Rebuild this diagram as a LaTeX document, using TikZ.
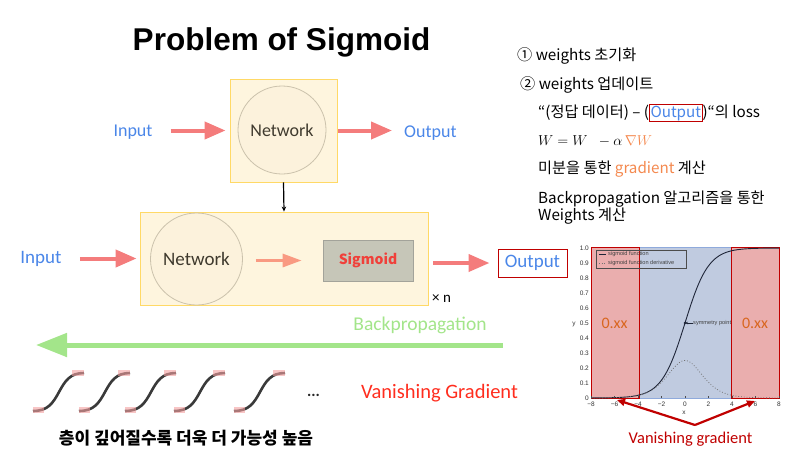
\documentclass[tikz,border=0pt]{standalone}
\usepackage{fontspec}
\setmainfont{Carlito}
\newfontfamily\kr{Noto Sans CJK KR}
\newfontfamily\ttl{Liberation Sans}
\usetikzlibrary{arrows.meta}
\definecolor{salmonA}{HTML}{F47C7C}
\definecolor{salmonB}{HTML}{F99A82}
\definecolor{blueT}{HTML}{4A86E8}
\definecolor{boxFill}{HTML}{FEF5DE}
\definecolor{boxLine}{HTML}{FFD966}
\definecolor{circFill}{HTML}{FCF2DC}
\definecolor{circLine}{HTML}{CBC2AC}
\definecolor{sigFill}{HTML}{C6C6B8}
\definecolor{sigLine}{HTML}{A3A39A}
\definecolor{sigText}{HTML}{F0403A}
\definecolor{netText}{HTML}{3F3A2E}
\definecolor{greenA}{HTML}{A3E58A}
\definecolor{vgRed}{HTML}{FF2D1E}
\definecolor{darkRed}{HTML}{C00000}
\definecolor{orangeG}{HTML}{F4894F}
\definecolor{orangeX}{HTML}{D9661F}
\definecolor{pinkF}{HTML}{EAAEAE}
\definecolor{blueF}{HTML}{C0CBE0}
\definecolor{blueB}{HTML}{8FAADC}
\definecolor{pinkS}{HTML}{F4A0A0}
\definecolor{curveC}{HTML}{3A3A3A}
\definecolor{plotC}{HTML}{1E2538}
\begin{document}
\begin{tikzpicture}[x=1pt,y=-1pt,
  txt/.style={inner sep=0pt, anchor=base},
  lbl/.style={txt, text=blueT, font=\fontsize{18}{20}\selectfont},
  ybox/.style={rectangle, draw=boxLine, fill=boxFill, line width=0.9pt, inner sep=0pt},
  net/.style={circle, draw=circLine, fill=circFill, line width=0.8pt, inner sep=0pt, text=netText},
  fat/.style={draw=salmonA, line width=4pt, -{Triangle[length=21pt,width=17pt]}},
  thin/.style={draw=salmonB, line width=3pt, -{Triangle[length=19pt,width=13pt]}},
  rp/.style={anchor=base west, inner sep=0pt, font=\kr\fontsize{15.2}{17}\selectfont},
  tick/.style={inner sep=0pt, font=\ttl\fontsize{6.5}{7}\selectfont, text=black!80},
  leg/.style={inner sep=0pt, anchor=west, font=\ttl\fontsize{5.6}{6}\selectfont, text=black!75},
  scurve/.pic={
    \draw[curveC, line width=2.6pt] (-26,19) .. controls (-11,19) and (-6,11) .. (0,0)
        .. controls (6,-11) and (11,-19) .. (25,-19);
    \fill[pinkS, opacity=0.6] (-26,15) rectangle (-15,21);
    \fill[pinkS, opacity=0.6] (13,-22) rectangle (25,-16.5);
  }]
\useasboundingbox (0,0) rectangle (800,450);

% title
\node[txt, font=\ttl\bfseries\fontsize{31.5}{33}\selectfont] (title) at (281.5,50) {Problem of Sigmoid};

% top network
\node[ybox, minimum width=107pt, minimum height=103pt] (box1) at (283.5,130.5) {};
\node[net, minimum size=88pt, font=\fontsize{18}{20}\selectfont] (net1) at (282,130) {Network};
\node[lbl] (in1) at (133,136) {Input};
\node[lbl, anchor=base west] (out1) at (404,137.5) {Output};
\draw[fat, shorten <=18pt, shorten >=4pt] (in1.east |- box1.west) -- (box1.west);
\draw[fat, shorten <=1pt, shorten >=12pt] (box1.east) -- (out1.west |- box1.east);

% lower network
\node[ybox, minimum width=288pt, minimum height=93pt] (box2) at (284,258.5) {};
\node[net, minimum size=92pt, font=\fontsize{19}{21}\selectfont] (net2) at (196.5,259) {Network};
\node[rectangle, draw=sigLine, fill=sigFill, line width=0.8pt, minimum width=90pt, minimum height=41pt,
      text=sigText, font=\kr\bfseries\fontsize{14}{16}\selectfont] (sig) at (368,260.5) {Sigmoid};
\node[lbl, font=\fontsize{19}{21}\selectfont] (in2) at (41,263) {Input};
\node[rectangle, draw=darkRed, line width=1pt, minimum width=69pt, minimum height=28pt, inner sep=0pt,
      text=blueT, font=\fontsize{19}{21}\selectfont] (out2) at (532.5,263) {Output};
\node[anchor=base west, inner sep=0pt, font=\fontsize{15}{17}\selectfont] (xn) at (432,302) {× n};

\draw[black, line width=1.2pt, -{Stealth[length=5pt,width=4.5pt]}] (box1.south) -- (box2.north);
\draw[fat, shorten <=18pt, shorten >=3pt] (in2.east |- box2.west) -- (box2.west);
\draw[thin, shorten <=13pt, shorten >=21pt] (net2.east |- sig.west) -- (sig.west);
\draw[fat, shorten <=5pt, shorten >=8pt] (box2.east |- out2.west) -- (out2.west);

% backpropagation
\node[txt, text=greenA, font=\fontsize{19.5}{21}\selectfont] (bp) at (420,330) {Backpropagation};
\coordinate (bpS) at (503,345);
\coordinate (bpE) at (36,345);
\draw[draw=greenA, line width=5pt, -{Triangle[length=31pt,width=23pt]}] (bpS) -- (bpE);

% s-curves
\foreach \c in {59,105,151,200,260} { \pic at (\c,392) {scurve}; }
\node[txt, font=\bfseries\fontsize{16}{18}\selectfont, text=black!85] (dots) at (313.5,396) {...};
\node[txt, text=vgRed, font=\fontsize{20.5}{22}\selectfont] (vg) at (439.5,398) {Vanishing Gradient};
\node[txt, font=\kr\bfseries\fontsize{17}{19}\selectfont] (deep) at (186,444) {층이 깊어질수록 더욱 더 가능성 높음};

% right panel text
\node[rp] (t1) at (517,60) {① weights 초기화};
\node[rp] (t2) at (520,89) {② weights 업데이트};
\node[rp] (t3) at (538,117) {“(정답 데이터) – (\setlength{\fboxsep}{0.6pt}\setlength{\fboxrule}{0.8pt}\fcolorbox{darkRed}{white}{\textcolor{blueT}{Output}})“의 loss};
\node[rp, font=\fontsize{15.5}{17}\selectfont] (t4) at (538,145) {$W = W \;\; - \alpha\,{\color{orangeG}\nabla W}$};
\node[rp] (t5) at (538,173) {미분을 통한 \textcolor{orangeG}{gradient} 계산};
\node[rp] (t6) at (538,203) {Backpropagation 알고리즘을 통한};
\node[rp] (t7) at (538,220) {Weights 계산};

% sigmoid plot
\filldraw[fill=blueF, draw=blueB, line width=0.8pt] (639,247) rectangle (731,398);
\filldraw[fill=pinkF, draw=darkRed, line width=0.9pt] (591,247) rectangle (639,398);
\filldraw[fill=pinkF, draw=darkRed, line width=0.9pt] (731,247) rectangle (779,398);
\draw[black!70, line width=0.6pt] (596,250) rectangle (686,268);
\draw[plotC, line width=0.7pt] (599,254.5) -- (606,254.5);
\draw[black!55, line width=0.7pt, dotted] (599,263) -- (606,263);
\node[leg] (lg1) at (608,254.5) {sigmoid function};
\node[leg] (lg2) at (608,263) {sigmoid function derivative};
\draw[plotC, line width=0.9pt] plot[domain=-8:8, samples=120] ({685+11.75*\x},{398-150/(1+exp(-\x))});
\draw[black!55, line width=0.8pt, dotted] plot[domain=-8:8, samples=120] ({685+11.75*\x},{398-150/((exp(\x/2)+exp(-\x/2))^2)});
\foreach \v/\t in {-8/−8,-6/−6,-4/−4,-2/−2,0/0,2/2,4/4,6/6,8/8} {
  \draw[black!70, line width=0.5pt] ({685+11.75*\v},398) -- ++(0,-2);
  \node[tick] at ({685+11.75*\v},404.5) {\t};
}
\foreach \v/\t in {0/0,1/0.1,2/0.2,3/0.3,4/0.4,5/0.5,6/0.6,7/0.7,8/0.8,9/0.9,10/1.0} {
  \node[tick, anchor=east] at (589,{398-15*\v}) {\t};
}
\node[tick] (xl) at (684,412.5) {x};
\node[tick] (yl) at (574,324) {y};
\coordinate (sympt) at (685,323);
\fill[plotC] (sympt) circle (1.4);
\node[leg] (sym) at (693,323) {symmetry point};
\draw[plotC, line width=0.5pt, -{Stealth[length=3pt,width=2.5pt]}] (sym.west) -- (sympt);
\node[txt, text=orangeX, font=\fontsize{16}{18}\selectfont] (xx1) at (614.5,328) {0.xx};
\node[txt, text=orangeX, font=\fontsize{16}{18}\selectfont] (xx2) at (755,328) {0.xx};

% vanishing gradient arrows
\node[txt, text=darkRed, font=\fontsize{16.5}{18}\selectfont] (vg2) at (690.5,443) {Vanishing gradient};
\coordinate (apex) at (695,425);
\coordinate (vgL) at (617,400);
\coordinate (vgR) at (755,401);
\draw[darkRed, line width=2.2pt, -{Triangle[length=8pt,width=7pt]}] (apex) -- (vgL);
\draw[darkRed, line width=2.2pt, -{Triangle[length=8pt,width=7pt]}] (apex) -- (vgR);
\end{tikzpicture}
\end{document}
